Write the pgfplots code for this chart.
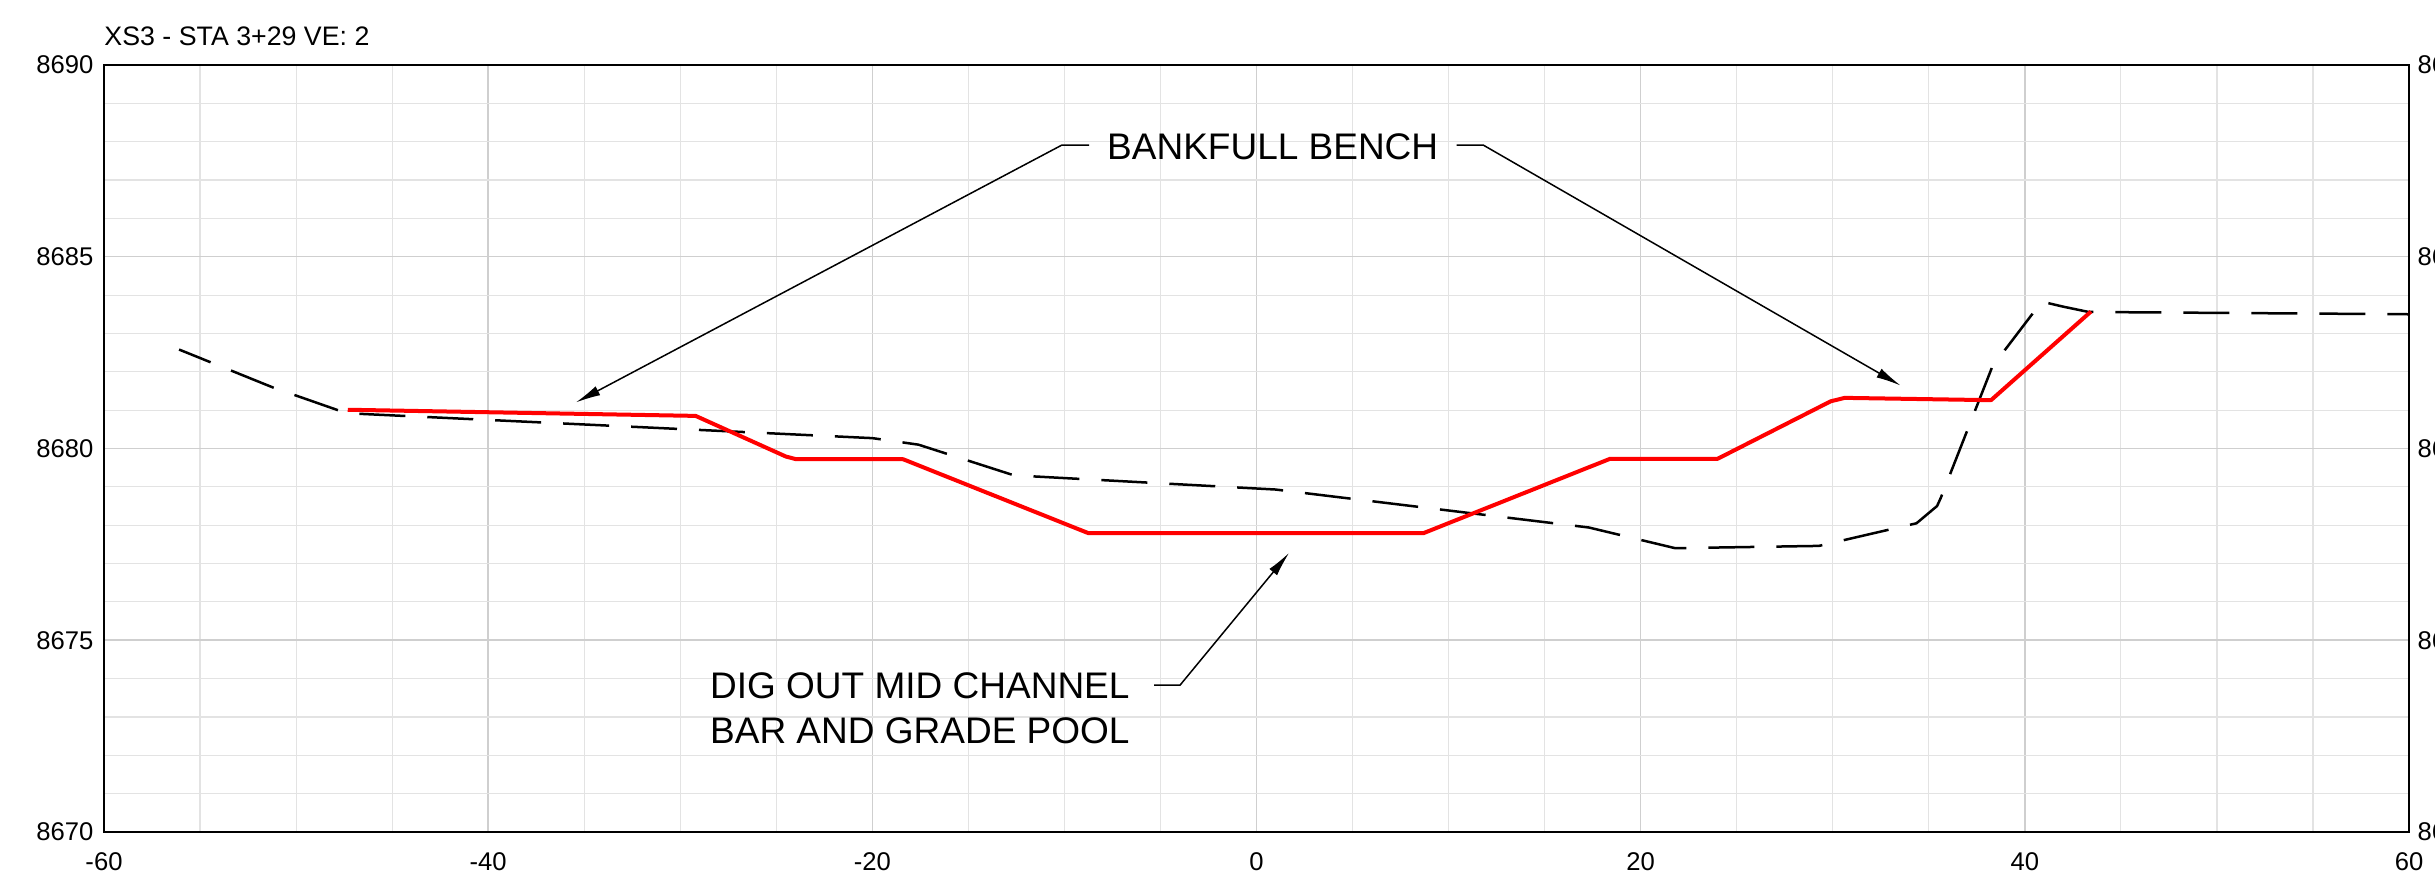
\documentclass[border=0pt]{standalone}
\usepackage{fontspec}
\setmainfont{Liberation Sans}
\usepackage{pgfplots}
\pgfplotsset{compat=1.18}
\usetikzlibrary{arrows.meta}
\begin{document}
\begin{tikzpicture}
\pgfplotsset{
  commonax/.style={
    scale only axis, width=922pt, height=306.8pt,
    xmin=-60, xmax=60, ymin=8670, ymax=8690,
    major tick length=0pt, minor tick length=0pt,
    tick label style={font=\fontsize{10.25}{12}\selectfont},
  }
}
\begin{axis}[commonax, name=ax,
  axis line style={black, line width=0.7pt},
  xtick={-60,-40,-20,0,20,40,60},
  xticklabels={-60,-40,-20,0,20,40,60},
  ytick={8670,8675,8680,8685,8690},
  yticklabels={8670,8675,8680,8685,8690},
  minor x tick num=3, minor y tick num=4,
  grid=both,
  major grid style={color=black!19, line width=0.6pt},
  minor grid style={color=black!11, line width=0.45pt},
  xticklabel style={inner sep=0pt, anchor=north, yshift=-8pt},
  yticklabel style={inner sep=0pt, anchor=east, xshift=-4pt},
  title={XS3 - STA 3+29 VE: 2},
  title style={at={(0,1)}, anchor=base west, yshift=1.6pt, inner sep=0pt, font=\fontsize{10.7}{12}\selectfont},
]
% existing ground (dashed)
\addplot[black, line width=1pt, dash pattern=on 18.4pt off 8.8pt, dash phase=4.8pt] coordinates {
(-56.09,8682.58) (-51.2,8681.59) (-47.37,8680.92) (-20.0,8680.27) (-17.6,8680.10)
(-12.63,8679.30) (0.99,8678.93) (17.3,8677.94) (21.8,8677.40) (29.28,8677.46)
(34.36,8678.05) (35.43,8678.5) (35.63,8678.72) (38.31,8682.14) (40.88,8683.83)
(41.98,8683.70) (43.32,8683.56) (60,8683.50)
};
% proposed grade (red)
\addplot[red, line width=1.6pt, line join=round] coordinates {
(-47.31,8681.01) (-29.2,8680.85) (-24.5,8679.79) (-23.96,8679.72) (-18.4,8679.72)
(-8.74,8677.79) (8.68,8677.79) (18.40,8679.73) (24.0,8679.73) (29.89,8681.23)
(30.62,8681.32) (38.24,8681.26) (43.44,8683.57)
};
% annotations
\node[anchor=base west, inner sep=0pt, font=\fontsize{14.8}{18}\selectfont] at (axis cs:-7.80,8687.54) {BANKFULL BENCH};
\draw[black, line width=0.6pt, -{Latex[length=10pt,width=4pt]}] (axis cs:-8.71,8687.91) -- (axis cs:-10.14,8687.91) -- (axis cs:-35.44,8681.20);
\draw[black, line width=0.6pt, -{Latex[length=10pt,width=4pt]}] (axis cs:10.42,8687.91) -- (axis cs:11.81,8687.91) -- (axis cs:33.54,8681.64);
\node[anchor=base west, inner sep=0pt, font=\fontsize{14.8}{18}\selectfont] at (axis cs:-28.47,8673.49) {DIG OUT MID CHANNEL};
\node[anchor=base west, inner sep=0pt, font=\fontsize{14.8}{18}\selectfont] at (axis cs:-28.47,8672.32) {BAR AND GRADE POOL};
\draw[black, line width=0.6pt, -{Latex[length=10pt,width=4pt]}] (axis cs:-5.33,8673.83) -- (axis cs:-3.98,8673.83) -- (axis cs:1.70,8677.28);
\end{axis}
% right-hand tick labels
\begin{axis}[commonax, at={(ax.south west)}, anchor=south west,
  hide x axis, axis y line*=right, y axis line style={draw=none},
  ytick={8670,8675,8680,8685,8690},
  yticklabels={8670,8675,8680,8685,8690},
  yticklabel style={inner sep=0pt, anchor=west, xshift=3.2pt},
]
\addplot[draw=none] coordinates {(0,8680)};
\end{axis}
\pgfresetboundingbox
\path[use as bounding box] ([xshift=-41.6pt,yshift=-19.6pt]ax.south west) rectangle ([xshift=10.4pt,yshift=26pt]ax.north east);
\end{tikzpicture}
\end{document}
